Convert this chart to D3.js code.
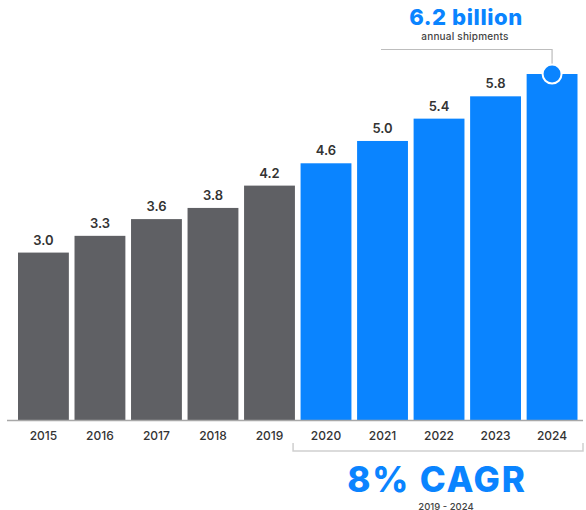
<!DOCTYPE html>
<html><head><meta charset="utf-8">
<script src="https://cdn.jsdelivr.net/npm/d3@7"></script>
<style>
html,body{margin:0;padding:0;background:#fff;}
svg{display:block;font-family:Inter,"Noto Sans",sans-serif;}
</style></head>
<body>
<svg id="chart" width="586" height="510"></svg>
<script>
const years = ["2015","2016","2017","2018","2019","2020","2021","2022","2023","2024"];
const shipments = [3.0, 3.3, 3.6, 3.8, 4.2, 4.6, 5.0, 5.4, 5.8, 6.2];
const valueLabels = ["3.0","3.3","3.6","3.8","4.2","4.6","5.0","5.4","5.8","6.2"];
const forecastYears = ["2020","2021","2022","2023","2024"];
const headline = "6.2 billion";
const headlineSub = "annual shipments";
const cagrText = "8% CAGR";
const cagrSub = "2019 - 2024";

const GRAY = "#5f6064", BLUE = "#0a84ff", TEXT = "#333";
const svg = d3.select("#chart");
const baseY = 420;
const x = d3.scaleBand().domain(years).range([18, 577.5]).paddingInner(0.1).paddingOuter(0);
const y = d3.scaleLinear().domain([0, 6.2]).range([baseY, 74]);

const data = years.map((yr,i)=>({year:yr, v:shipments[i], label:valueLabels[i], blue: forecastYears.includes(yr)}));

// bars
svg.append("g").selectAll("rect").data(data).join("rect")
  .attr("x", d=>x(d.year)).attr("y", d=>y(d.v))
  .attr("width", x.bandwidth()).attr("height", d=>baseY - y(d.v))
  .attr("fill", d=>d.blue?BLUE:GRAY);

// value labels (not on last bar)
svg.append("g").selectAll("text").data(data.slice(0, -1)).join("text")
  .attr("x", d=>x(d.year)+x.bandwidth()/2).attr("y", d=>y(d.v)-8)
  .attr("text-anchor","middle").attr("font-size",13).attr("font-weight",600)
  .attr("fill",TEXT).text(d=>d.label);

// axis
const axis = d3.axisBottom(x).tickSize(0).tickPadding(11);
const ag = svg.append("g").attr("transform",`translate(0,${baseY})`).call(axis);
ag.select(".domain").remove();
ag.selectAll("text").attr("font-size",12).attr("font-weight",500).attr("fill",TEXT).attr("font-family","Inter, sans-serif");
svg.append("line").attr("x1",7).attr("x2",583).attr("y1",baseY+0.5).attr("y2",baseY+0.5)
  .attr("stroke","#a8a8a8").attr("stroke-width",1.5);

// last bar annotation
const last = data[data.length-1];
const cx = x(last.year)+x.bandwidth()/2, cy = y(last.v);
svg.append("path")
  .attr("d",`M381,49.5H${cx}V${cy-10}`)
  .attr("fill","none").attr("stroke","#bdbdbd").attr("stroke-width",1.2);
svg.append("circle").attr("cx",cx).attr("cy",cy).attr("r",9.5)
  .attr("fill",BLUE).attr("stroke","#fff").attr("stroke-width",2);
svg.append("text").attr("x",466).attr("y",24.5).attr("text-anchor","middle")
  .attr("font-size",22).attr("font-weight",800).attr("letter-spacing",0.6).attr("fill",BLUE).text(headline);
svg.append("text").attr("x",465).attr("y",40).attr("text-anchor","middle")
  .attr("font-size",10).attr("font-weight",500).attr("letter-spacing",0.2).attr("fill","#444").text(headlineSub);

// bracket
const bx0 = x(forecastYears[0]) - 7.5;
svg.append("path")
  .attr("d",`M${bx0},443V451H583V443`)
  .attr("fill","none").attr("stroke","#cfcfcf").attr("stroke-width",1.5);
svg.append("text").attr("x",437).attr("y",492).attr("text-anchor","middle")
  .attr("font-size",35).attr("font-weight",800).attr("letter-spacing",1.8).attr("fill",BLUE).text(cagrText);
svg.append("text").attr("x",446).attr("y",509.5).attr("text-anchor","middle")
  .attr("font-size",9.5).attr("font-weight",500).attr("fill","#444").text(cagrSub);
</script>
</body></html>
